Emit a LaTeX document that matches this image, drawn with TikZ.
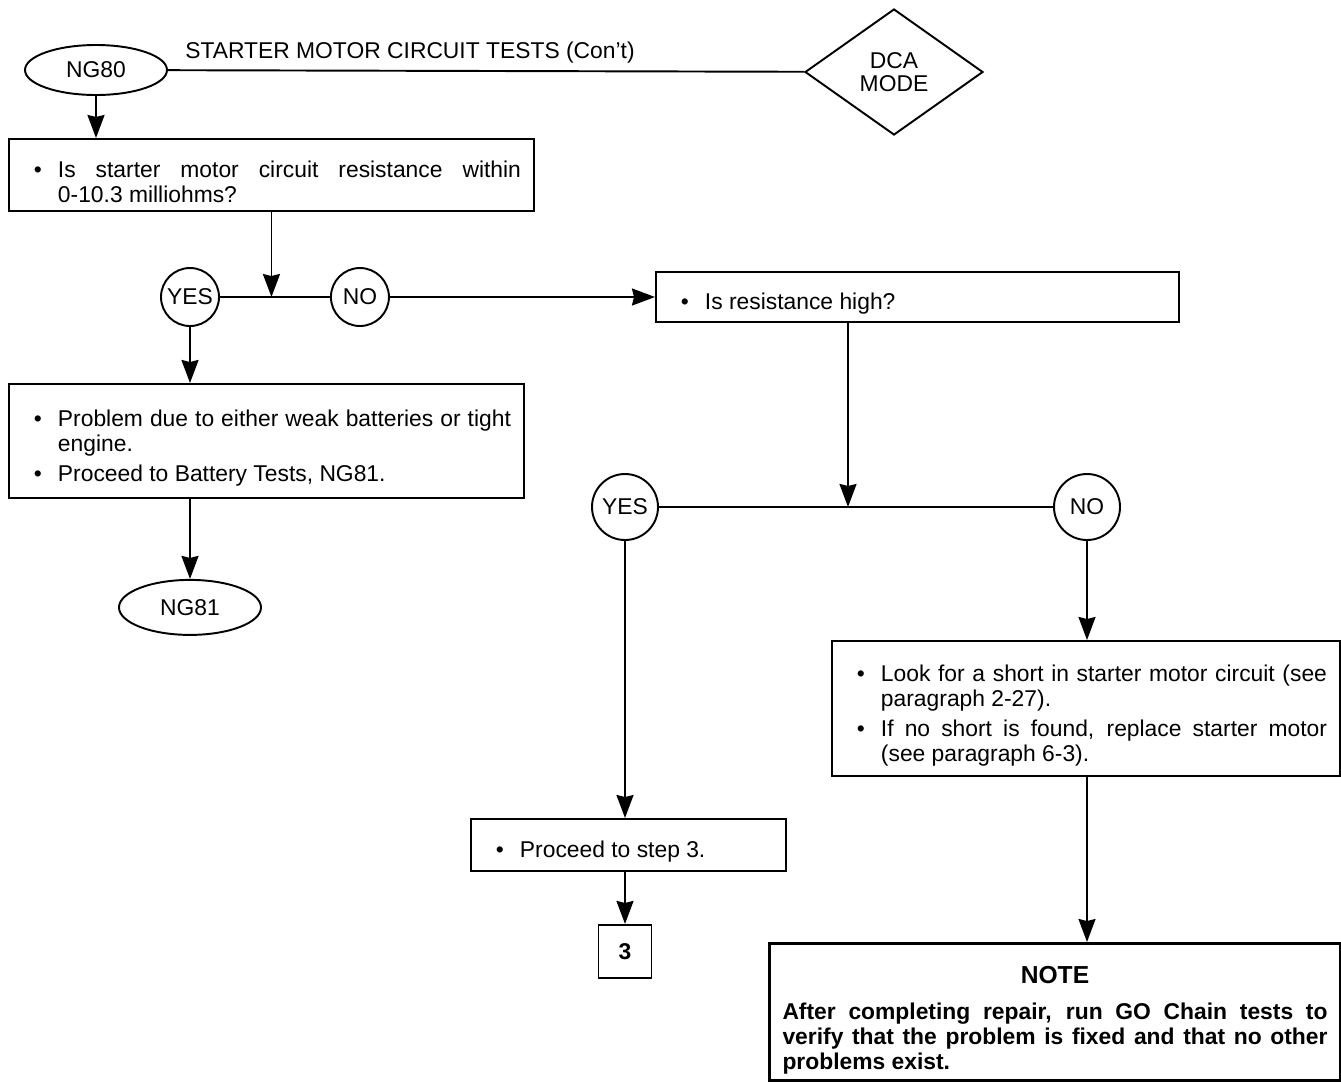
\documentclass[tikz,border=0pt]{standalone}
\usepackage{fontspec}
\setmainfont{Liberation Sans}
\usetikzlibrary{shapes.geometric, arrows.meta, positioning, calc}

\tikzstyle{stepbox} = [rectangle, draw=black, line width=1.1pt, align=justify, anchor=north west, inner xsep=0.26cm, inner ysep=0.12cm, font=\fontsize{13}{14.2}\selectfont, execute at begin node={\setlength{\parskip}{3pt}}]
\tikzstyle{term} = [ellipse, draw=black, line width=1.1pt, inner sep=0pt, minimum width=2.84cm, font=\fontsize{13}{15}\selectfont]
\tikzstyle{answer} = [circle, draw=black, line width=1.1pt, inner sep=0pt, font=\fontsize{13}{15}\selectfont]
\tikzstyle{mode} = [diamond, draw=black, line width=1.1pt, inner sep=0pt, minimum width=3.56cm, minimum height=2.52cm, align=center, font=\fontsize{13}{13.5}\selectfont]
\tikzstyle{arrow} = [line width=1.1pt, -{Stealth[length=0.46cm, width=0.34cm, inset=0.04cm]}]
\tikzstyle{link} = [line width=1.1pt]

\newcommand{\itm}{\par\noindent\hangindent=0.72cm\hangafter=1\hspace*{0.24cm}\makebox[0.48cm][l]{\textbullet}}

\begin{document}
\begin{tikzpicture}
    \useasboundingbox (0,0) rectangle (26.82,-21.64);

    % header
    \node (ng80) [term, minimum height=1.0cm] at (1.92,-1.40) {NG80};
    \node (title) [anchor=base west, inner sep=0pt, font=\fontsize{13}{15}\selectfont] at (3.70,-1.16) {STARTER MOTOR CIRCUIT TESTS (Con't)};
    \node (dca) [mode] at (17.88,-1.44) {DCA\\MODE};
    \draw [link] (ng80) -- (dca);

    % first check
    \node (chk) [stepbox, text width=9.98cm, minimum height=1.44cm] at (0.16,-2.76)
        {\itm Is starter motor circuit resistance within\linebreak 0-10.3 milliohms?\par};
    \node (yes1) [answer, minimum size=1.16cm] at (3.80,-5.94) {YES};
    \node (no1) [answer, minimum size=1.16cm, right=2.20cm of yes1] {NO};
    \coordinate (j1) at (chk.south |- yes1);
    \node (high) [stepbox, anchor=west, text width=9.94cm, minimum height=1.0cm] at (13.10,-5.94)
        {\itm Is resistance high?\par};

    \draw [arrow] (ng80) -- (ng80 |- chk.north);
    \draw [arrow] (chk.south) -- (j1);
    \draw [link] (yes1) -- (no1);
    \draw [arrow] (no1) -- (high);

    % yes branch
    \node (weak) [stepbox, text width=9.78cm, minimum height=2.28cm] at (0.16,-7.66)
        {\itm Problem due to either weak batteries or tight\linebreak engine.
         \itm Proceed to Battery Tests, NG81.\par};
    \node (ng81) [term, minimum height=1.10cm, below=1.60cm of weak.south -| yes1] {NG81};
    \draw [arrow] (yes1) -- (yes1 |- weak.north);
    \draw [arrow] (ng81 |- weak.south) -- (ng81);

    % no branch
    \coordinate (j2) at (16.96,-10.14);
    \node (yes2) [answer, minimum size=1.32cm] at (12.50,-10.14) {YES};
    \node (no2) [answer, minimum size=1.32cm] at (21.74,-10.14) {NO};
    \draw [arrow] (j2 |- high.south) -- (j2);
    \draw [link] (yes2) -- (no2);

    \node (short) [stepbox, text width=9.64cm, minimum height=2.70cm] at (16.62,-12.80)
        {\itm Look for a short in starter motor circuit (see\linebreak paragraph 2-27).
         \itm If no short is found, replace starter motor\linebreak (see paragraph 6-3).\par};
    \node (step3) [stepbox, text width=5.78cm, minimum height=1.04cm] at (9.40,-16.36)
        {\itm Proceed to step 3.\par};
    \node (num3) [rectangle, draw=black, line width=1.1pt, minimum size=1.06cm, font=\fontsize{13}{15}\selectfont\bfseries, below=1.04cm of step3.south -| yes2] {3};
    \node (note) [stepbox, text width=10.90cm, minimum height=2.74cm, line width=1.7pt, inner ysep=0.08cm] at (15.36,-18.84)
        {{\centering\fontsize{14}{16}\selectfont\bfseries\rule{0pt}{0.68cm}NOTE\par}\vspace{3pt}
         \bfseries After completing repair, run GO Chain tests to\linebreak verify that the problem is fixed and that no other\linebreak problems exist.\par};

    \draw [arrow] (yes2) -- (yes2 |- step3.north);
    \draw [arrow] (num3 |- step3.south) -- (num3);
    \draw [arrow] (no2) -- (no2 |- short.north);
    \draw [arrow] (no2 |- short.south) -- (no2 |- note.north);
\end{tikzpicture}
\end{document}
